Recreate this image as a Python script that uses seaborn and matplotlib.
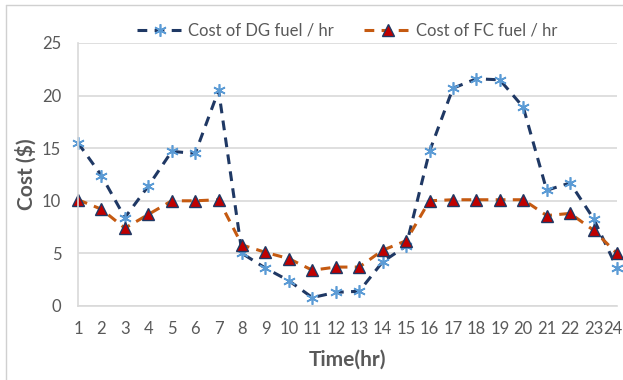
import numpy as np
import pandas as pd
import matplotlib
matplotlib.use("Agg")
import matplotlib.pyplot as plt
import matplotlib.transforms as mtransforms
from matplotlib.lines import Line2D
import seaborn as sns

hours = list(range(1, 25))
dg_cost = [15.5, 12.4, 8.4, 11.4, 14.7, 14.5, 20.5, 5.0, 3.6, 2.4, 0.8, 1.3,
           1.4, 4.2, 5.7, 14.7, 20.7, 21.6, 21.5, 18.9, 11.0, 11.7, 8.3, 3.6]
fc_cost = [10.1, 9.2, 7.4, 8.7, 10.0, 10.0, 10.1, 5.8, 5.1, 4.5, 3.4, 3.7,
           3.7, 5.3, 6.2, 10.0, 10.1, 10.1, 10.1, 10.1, 8.6, 8.8, 7.2, 5.0]
series_names = ["Cost of DG fuel / hr", "Cost of FC fuel / hr"]
y_ticks = [0, 5, 10, 15, 20, 25]

df = pd.DataFrame({"hour": hours, "dg": dg_cost, "fc": fc_cost})

sns.set_theme(style="white")
plt.rcParams["font.family"] = ["Lato", "DejaVu Sans"]

fig = plt.figure(figsize=(6.23, 3.80), dpi=100)
ax = fig.add_axes([78 / 623, 1 - 306 / 380, (617 - 78) / 623, (306 - 43) / 380])

navy = "#1f3864"
dash = (0, (3.2, 2.4))
sns.lineplot(data=df, x="hour", y="dg", ax=ax, color=navy, lw=2.2,
             linestyle=dash,
             marker=(6, 2, 0), markersize=9, markeredgecolor="#5b9bd5",
             markeredgewidth=1.2, markerfacecolor="#5b9bd5", clip_on=False)
sns.lineplot(data=df, x="hour", y="fc", ax=ax, color="#c55a11", lw=2.2,
             linestyle=dash,
             marker="^", markersize=9, markerfacecolor="#c00000",
             markeredgecolor=navy, markeredgewidth=1.0, clip_on=False)

ax.set_xlim(1, 24)
ax.set_ylim(0, 25)
ax.set_xticks(hours)
ax.set_xticklabels([str(h) for h in hours])
ax.set_yticks(y_ticks)
ax.grid(axis="y", color="#d9d9d9", lw=1.2)
ax.grid(axis="x", visible=False)
ax.set_axisbelow(True)
for side in ["top", "right"]:
    ax.spines[side].set_visible(False)
for side in ["left", "bottom"]:
    ax.spines[side].set_color("#d9d9d9")
    ax.spines[side].set_linewidth(1.2)
ax.tick_params(axis="both", length=0, labelsize=12, labelcolor="#595959")
ax.tick_params(axis="x", pad=11)
ax.tick_params(axis="y", pad=12)

# keep the last hour label inside the figure edge
last = ax.get_xticklabels()[-1]
last.set_transform(last.get_transform() +
                   mtransforms.ScaledTranslation(-4 / 100, 0, fig.dpi_scale_trans))

ax.set_xlabel("Time(hr)", fontsize=15, fontweight="bold", color="#595959", labelpad=9)
ax.set_ylabel("Cost ($)", fontsize=15, fontweight="bold", color="#595959", labelpad=4)

handles = [
    Line2D([], [], color=navy, lw=2.2, linestyle=dash,
           marker=(6, 2, 0), markersize=9, markeredgecolor="#5b9bd5",
           markeredgewidth=1.2),
    Line2D([], [], color="#c55a11", lw=2.2, linestyle=dash,
           marker="^", markersize=9, markerfacecolor="#c00000",
           markeredgecolor=navy),
]
leg = fig.legend(handles, series_names, loc="center", ncol=2,
                 bbox_to_anchor=(347 / 623, 1 - 31 / 380), frameon=False,
                 fontsize=12, handlelength=2.8, numpoints=1,
                 columnspacing=1.8, handletextpad=0.3)
for t in leg.get_texts():
    t.set_color("#595959")

# thin page border on the left and top
fig.add_artist(Line2D([6 / 623, 6 / 623], [0, 1 - 5 / 380], transform=fig.transFigure,
                      color="#d0d0d0", lw=1))
fig.add_artist(Line2D([6 / 623, 1], [1 - 5 / 380, 1 - 5 / 380], transform=fig.transFigure,
                      color="#d0d0d0", lw=1))

fig.savefig("out.png", dpi=100)
